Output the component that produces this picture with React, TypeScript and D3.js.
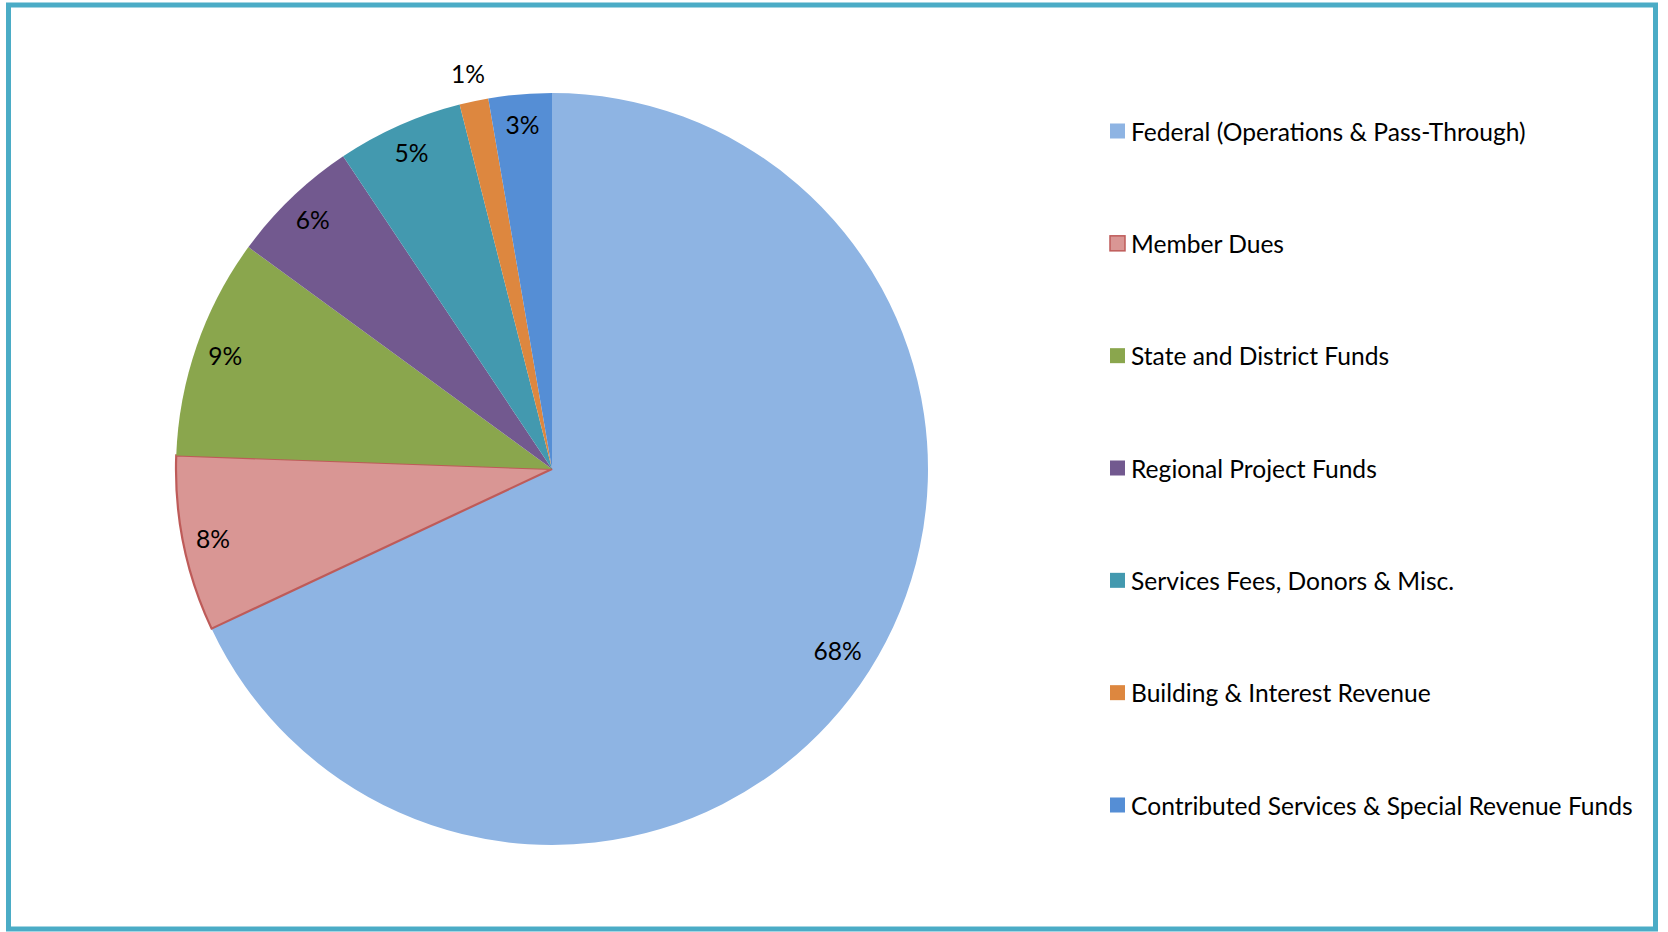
import React, { useEffect, useRef } from 'react';
import * as d3 from 'd3';

// Revenue sources, clockwise from 12 o'clock
const categories = [
  'Federal (Operations & Pass-Through)',
  'Member Dues',
  'State and District Funds',
  'Regional Project Funds',
  'Services Fees, Donors & Misc.',
  'Building & Interest Revenue',
  'Contributed Services & Special Revenue Funds',
];
const shares = [68.0, 7.55, 9.47, 5.58, 5.42, 1.24, 2.71];
const pctLabels = ['68%', '8%', '9%', '6%', '5%', '1%', '3%'];

const fills = ['#8EB4E3', '#D99694', '#8AA64D', '#72598F', '#4399AF', '#DD873F', '#558ED5'];
const strokes = ['none', '#BE5B59', 'none', 'none', 'none', 'none', 'none'];

const WIDTH = 1668;
const HEIGHT = 932;
const FONT = 'Lato, "Open Sans", sans-serif';
const FONT_SIZE = 24.6;

const App: React.FC = () => {
  const svgRef = useRef<SVGSVGElement>(null);

  useEffect(() => {
    const svg = d3.select(svgRef.current);
    svg.selectAll('*').remove();

    // frame
    svg
      .append('rect')
      .attr('x', 8.5)
      .attr('y', 5)
      .attr('width', 1647)
      .attr('height', 924)
      .attr('fill', '#fff')
      .attr('stroke', '#4BACC6')
      .attr('stroke-width', 5);

    const cx = 552;
    const cy = 469;
    const r = 376;

    const rows = categories.map((c, i) => ({ c, v: shares[i], label: pctLabels[i], i }));

    const pie = d3
      .pie<any>()
      .sort(null)
      .value(d => d.v);
    const arcs = pie(rows);

    const arc = d3.arc<any>().innerRadius(0).outerRadius(r);

    const g = svg.append('g').attr('transform', `translate(${cx},${cy})`);

    g.selectAll('path')
      .data(arcs)
      .enter()
      .append('path')
      .attr('d', arc as any)
      .attr('fill', d => fills[d.data.i])
      .attr('stroke', d => strokes[d.data.i])
      .attr('stroke-width', 2.2);

    // labels: inside end, tiny slices pushed outside
    const labelR = (v: number) => (v < 2 ? 1.075 : v > 50 ? 0.9 : 0.92) * r;
    g.selectAll('text.pct')
      .data(arcs)
      .enter()
      .append('text')
      .attr('class', 'pct')
      .attr('transform', d => {
        const a = (d.startAngle + d.endAngle) / 2;
        const rr = labelR(d.data.v);
        return `translate(${Math.sin(a) * rr},${-Math.cos(a) * rr})`;
      })
      .attr('text-anchor', 'middle')
      .attr('dominant-baseline', 'central')
      .attr('font-family', FONT)
      .attr('font-size', FONT_SIZE)
      .attr('fill', '#000')
      .text(d => d.data.label);

    // legend
    const legendY = d3
      .scalePoint<string>()
      .domain(categories)
      .range([131, 805]);

    const leg = svg
      .append('g')
      .selectAll('g')
      .data(rows)
      .enter()
      .append('g')
      .attr('transform', d => `translate(1110,${legendY(d.c)})`);

    leg
      .append('rect')
      .attr('x', 0)
      .attr('y', -7.5)
      .attr('width', 15)
      .attr('height', 15)
      .attr('fill', d => fills[d.i])
      .attr('stroke', d => strokes[d.i])
      .attr('stroke-width', 1.5);

    leg
      .append('text')
      .attr('x', 21)
      .attr('y', 0)
      .attr('dominant-baseline', 'central')
      .attr('font-family', FONT)
      .attr('font-size', FONT_SIZE)
      .attr('fill', '#000')
      .text(d => d.c);
  }, []);

  return (
    <svg
      ref={svgRef}
      width={WIDTH}
      height={HEIGHT}
      style={{ position: 'absolute', left: 0, top: 0 }}
    />
  );
};

export default App;
